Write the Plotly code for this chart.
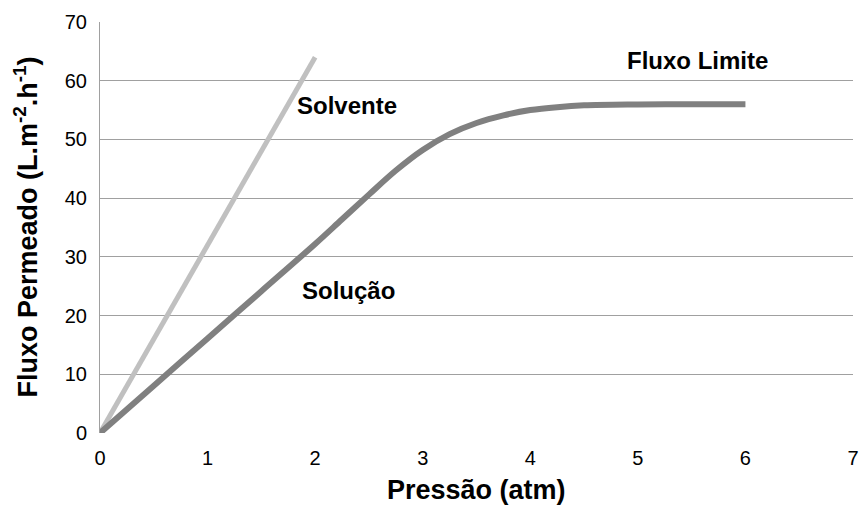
import plotly.graph_objects as go

# Data
x_solvente = [0, 2]
y_solvente = [0, 64]

x_solucao = [0, 0.5, 1, 1.5, 2, 2.25, 2.5, 2.75, 3, 3.25, 3.5, 3.75, 4, 4.25, 4.5, 5, 5.5, 6]
y_solucao = [0, 8.05, 16.1, 24.15, 32.2, 36.4, 40.6, 44.7, 48.2, 50.9, 52.8, 54.1, 55.0, 55.5, 55.8, 55.95, 56, 56]

labels = ["Solvente", "Solução", "Fluxo Limite"]
label_x = [2.30, 2.31, 5.55]
label_y = [55.8, 24.3, 63.5]

x_ticks = [0, 1, 2, 3, 4, 5, 6, 7]
y_ticks = [0, 10, 20, 30, 40, 50, 60, 70]

x_title = "<b>Pressão (atm)</b>"
y_title = "<b>Fluxo Permeado (L.m<sup>-2</sup>.h<sup>-1</sup>)</b>"

FONT = "Liberation Sans, Arial, sans-serif"

fig = go.Figure()
fig.add_trace(go.Scatter(x=x_solvente, y=y_solvente, mode="lines",
                         line=dict(color="#c0c0c0", width=5), showlegend=False))
fig.add_trace(go.Scatter(x=x_solucao, y=y_solucao, mode="lines",
                         line=dict(color="#808080", width=6, shape="spline", smoothing=1.0),
                         showlegend=False))

for t, xx, yy in zip(labels, label_x, label_y):
    fig.add_annotation(x=xx, y=yy, text=f"<b>{t}</b>", showarrow=False,
                       font=dict(family=FONT, size=24, color="#000000"))

fig.add_annotation(x=0.5, y=-0.1387, xref="paper", yref="paper", text=x_title,
                   showarrow=False, xanchor="center", yanchor="middle",
                   font=dict(family=FONT, size=27, color="#000000"))
fig.add_annotation(x=-0.0995, y=0.5, xref="paper", yref="paper", text=y_title,
                   showarrow=False, xanchor="center", yanchor="middle", textangle=-90,
                   font=dict(family=FONT, size=27, color="#000000"))

fig.update_layout(
    width=861, height=508,
    margin=dict(l=100, r=8, t=22, b=75),
    paper_bgcolor="white", plot_bgcolor="white",
    font=dict(family=FONT, color="#000000"),
    hovermode=False,
    xaxis=dict(range=[0, 7], tickvals=x_ticks, showgrid=False, zeroline=False,
               showline=False, ticks="", tickfont=dict(size=20),
               ticklabelstandoff=11, automargin=False, ticklabeloverflow="allow"),
    yaxis=dict(range=[0, 70], tickvals=y_ticks, showgrid=True, gridcolor="#a0a0a0",
               gridwidth=1, zeroline=False, showline=True, linecolor="#a0a0a0",
               linewidth=1, ticks="", tickfont=dict(size=20), ticklabelstandoff=8,
               automargin=False),
)

fig.write_html("out.html",
               config={"displayModeBar": False},
               post_script="document.body.style.margin='0';document.body.style.overflow='hidden';")
